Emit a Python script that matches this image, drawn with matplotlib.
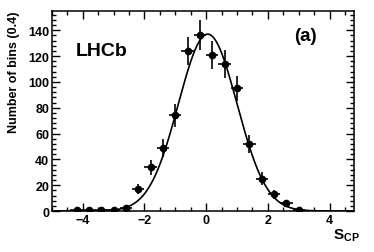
import numpy as np
import matplotlib
matplotlib.use("Agg")
import matplotlib.pyplot as plt
from matplotlib.ticker import MultipleLocator

plt.rcParams['font.family'] = ['Liberation Sans', 'DejaVu Sans']
plt.rcParams['font.weight'] = 'bold'

# binned S_CP distribution (bin width 0.4)
bin_centres = [-4.2, -3.8, -3.4, -3.0, -2.6, -2.2, -1.8, -1.4, -1.0, -0.6,
               -0.2, 0.2, 0.6, 1.0, 1.4, 1.8, 2.2, 2.6, 3.0]
counts = [1, 1, 1, 1, 2, 17, 34, 49, 74, 124, 136, 121, 114, 95, 52, 25, 13, 6, 1]
half_width = 0.2

# gaussian fit parameters
fit_amp = 137.0
fit_mean = 0.05
fit_sigma = 0.95

fig = plt.figure(figsize=(3.74, 2.53), dpi=100)
ax = fig.add_axes([0.139, 0.162, 0.808, 0.791])

x = np.array(bin_centres)
y = np.array(counts)
yerr = np.sqrt(y)

xs = np.linspace(-5, 4.8, 400)
ax.plot(xs, fit_amp * np.exp(-0.5 * ((xs - fit_mean) / fit_sigma) ** 2),
        color='black', lw=1.2)
ax.errorbar(x, y, xerr=half_width, yerr=yerr, fmt='o', color='black',
            ms=4.5, elinewidth=1.2, capsize=0)

ax.set_xlim(-5, 4.8)
ax.set_ylim(0, 155)
ax.xaxis.set_major_locator(MultipleLocator(2))
ax.xaxis.set_minor_locator(MultipleLocator(0.5))
ax.yaxis.set_major_locator(MultipleLocator(20))
ax.yaxis.set_minor_locator(MultipleLocator(4))
ax.tick_params(which='both', direction='in', top=True, right=True,
               labelsize=9, width=1, pad=2)
ax.tick_params(which='major', length=6)
ax.tick_params(which='minor', length=3)
for sp in ax.spines.values():
    sp.set_linewidth(1.1)
for lab in ax.get_xticklabels() + ax.get_yticklabels():
    lab.set_fontweight('bold')

fig.text(0.925, 0.035, r'S$_{\mathregular{CP}}$', fontsize=11, fontweight='bold',
         ha='center', va='bottom')
fig.text(0.038, 0.953, 'Number of bins (0.4)', fontsize=9, fontweight='bold',
         rotation=90, ha='center', va='top')
ax.text(0.08, 0.8, 'LHCb', transform=ax.transAxes, fontsize=14,
        fontweight='bold', va='center')
ax.text(0.8, 0.875, '(a)', transform=ax.transAxes, fontsize=13.5,
        fontweight='bold', va='center')

fig.savefig('out.png', dpi=100)
